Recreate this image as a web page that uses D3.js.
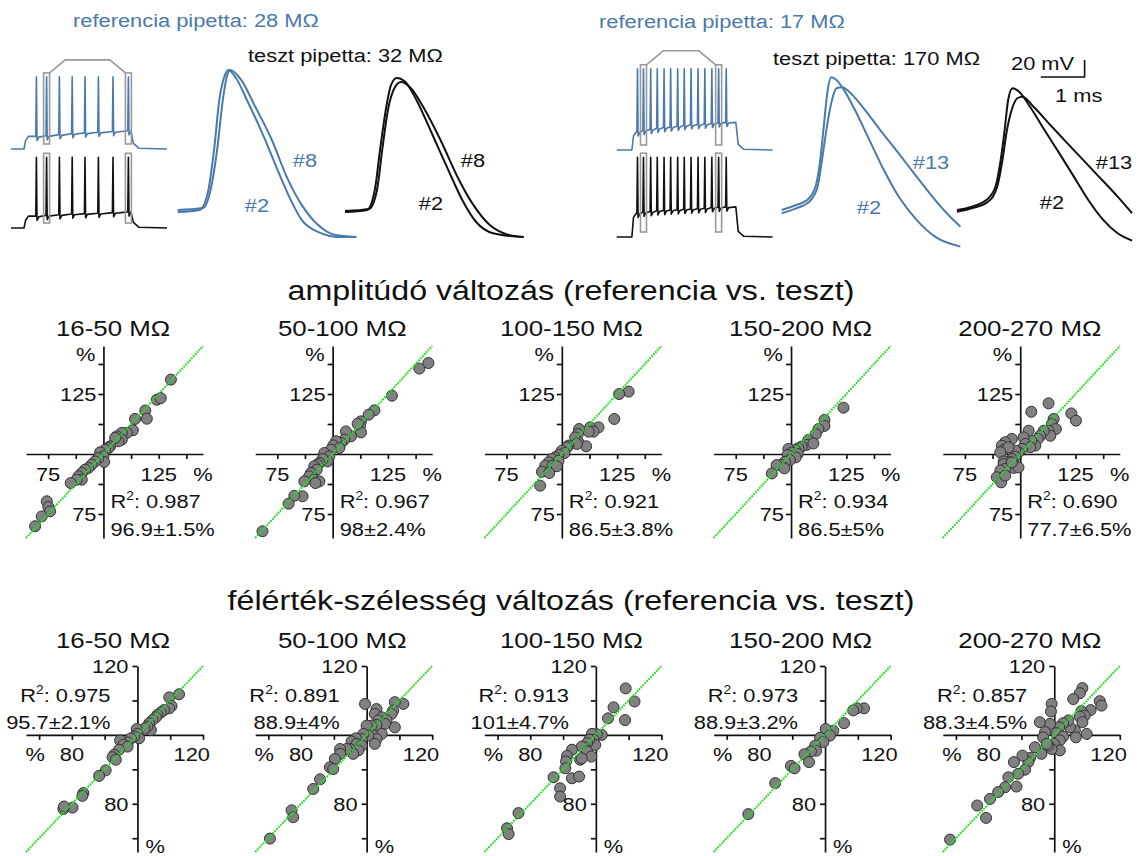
<!DOCTYPE html>
<html lang="hu">
<head>
<meta charset="utf-8">
<title>Pipetta ellenállás - AP összehasonlítás</title>
<script src="https://d3js.org/d3.v7.min.js"></script>
<style>
  body { margin: 0; background: #fff; font-family: "Liberation Sans", Arial, Helvetica, sans-serif; }
  svg text { font-family: "Liberation Sans", Arial, Helvetica, sans-serif; }
</style>
</head>
<body>
<div id="chart"></div>
<script>

var W = 1142, H = 856;
var SX = 1.15;            // the original lettering is a bit wide
var BLUE = "#4a79ab";
var INK = "#111";

// ---------- scatter panels ----------
var rangeLabels = ["16-50 MΩ", "50-100 MΩ", "100-150 MΩ", "150-200 MΩ", "200-270 MΩ"];
var ampR2 = ["0.987", "0.967", "0.921", "0.934", "0.690"];
var ampMean = ["96.9±1.5%", "98±2.4%", "86.5±3.8%", "86.5±5%", "77.7±6.5%"];
var widthR2 = ["0.975", "0.891", "0.913", "0.973", "0.857"];
var widthMean = ["95.7±2.1%", "88.9±4%", "101±4.7%", "88.9±3.2%", "88.3±4.5%"];

var ampTicks = [75, 87.5, 112.5, 125, 137.5];
var widthTicks = [70, 80, 90, 110, 120];

// amplitude: [reference %, test %]
var amp1 = [[130.5,131],[124.1,122.6],[125.9,123.3],[118.9,118.1],[119.6,114.7],[114.3,114.6],[113.3,109.9],
  [110.6,108.8],[108.3,108.8],[106,107.4],[108.3,106],[106.8,105.3],[105.3,106.7],[103,103.2],[102.3,102.5],
  [100.8,101.8],[98.5,100.7],[100,99],[100.3,96.7],[97.7,98.3],[96.2,96.9],[94.7,95.6],[93.2,94.2],[91.7,93.5],
  [90.2,92.1],[88.7,90.7],[90.2,89.3],[87.9,89.3],[85.2,87.9],[74.4,80.3],[75.1,77.9],[75.9,76.1],[72.1,74],[69.1,69.9]];
var amp2 = [[143.3,137.9],[139.2,135.6],[126.8,124.3],[118.9,118.2],[116.3,116.4],[112.8,113.6],[112.4,111.8],
  [112.8,109],[111.3,112.6],[108.3,107.4],[106,109.4],[105.3,106],[103.8,104.6],[101.5,105.3],[100.3,103.6],
  [103,102.5],[99.2,101.8],[96.2,100.4],[98.5,99],[97.7,96.9],[95.5,97.9],[94,96.3],[93.2,95.6],[91.7,94.9],
  [92.8,93.5],[90.2,92.1],[89.4,90.7],[91.7,89.3],[94,88.6],[92.2,87.9],[87.2,88.6],[86.4,82.4],[82.7,82.6],
  [80.1,79.3],[68.3,67.8]];
var amp3 = [[130.2,126],[125.9,125],[123.7,114.6],[116.6,111.1],[112.8,111.1],[114.3,109.3],[112.1,109.3],
  [107.8,110.4],[107.2,108.3],[106,106.9],[107.5,104.9],[111,103.2],[106.8,104.2],[103,103.5],[102.3,102.8],
  [100,101.4],[101.2,100.4],[98.5,99.6],[97,98.6],[95.5,97.9],[98.5,97.2],[94,96.5],[92.5,95.1],[95.8,95.1],
  [97.7,94.9],[91,92.6],[94.3,92.1],[90.2,86.8]];
var amp4 = [[123.7,119.3],[115.1,114.2],[115.1,111.7],[112.4,110.4],[111.2,108.3],[107.8,105.8],[107.1,103.8],
  [110.1,104.4],[104.8,103.1],[103.3,102.4],[101.8,101.7],[98.8,102.1],[100.3,100.6],[103,100],[98.5,99.6],
  [102.1,98.6],[99.5,97.5],[97.3,96.8],[95.5,95.4],[93.5,95.4],[97,94],[91.3,91.9]];
var amp5 = [[112.8,121.1],[105,117.6],[123.1,116.9],[125.2,113.9],[115.1,114.6],[114.3,112.5],[116.1,110.4],
  [112.8,109.7],[113.6,107.6],[110.6,109.7],[109,107.6],[108,106.3],[106.8,103.5],[105,105.6],[103.8,109.7],
  [101.5,106.9],[102.3,104.2],[104.5,102.8],[100.8,102.1],[99.2,100.7],[97.7,101.4],[96.2,106.3],[93.2,104.9],
  [91.7,103.5],[92.5,101.7],[94.7,102.8],[91,100.7],[97.7,98.9],[96.2,97.9],[94.7,96.8],[92.5,96.9],[92.5,95.8],
  [97.7,95.1],[97,94.2],[99.2,94.4],[93.2,93.8],[91,93.1],[89.4,90.3],[91.4,88.2],[93.2,91],[96.2,96.5]];

// half-width: [reference %, test %]
var wid1 = [[112.7,111.8],[109.7,110.9],[110.4,108.4],[109.7,107.7],[108.1,107.2],[107.1,106.5],[106.1,105.8],
  [105.6,105.1],[104.6,104.3],[103.6,103.4],[104.1,101.4],[103,102.4],[102.2,101.9],[99.8,101.7],[100,100.3],
  [100.5,99],[99,99.5],[98,99],[97,97.8],[94.7,98.4],[95.7,97.1],[97,96.6],[94.4,95.7],[92.9,94.2],[92.4,93.5],
  [93.4,92.8],[90.3,89.7],[88.3,88.1],[83.5,83.1],[83.2,82.3],[80.2,78.9],[77.4,78.5],[77.6,79.2]];
var wid2 = [[111.2,109],[108.6,109.5],[108.1,107.1],[107.6,106.1],[103,107.5],[102.5,106.1],[99.5,109],
  [104.6,105.1],[103.6,104.2],[106.1,104.2],[108.6,102.2],[105.6,103.2],[103,102.9],[101.5,102.7],[100,102.7],
  [104.6,100.3],[102,99.8],[103,98.8],[100.5,99.8],[99,100.3],[98.5,98.8],[96.7,99],[95.4,98.1],[97,97.4],
  [98.5,96.9],[102.5,97.4],[97.5,95.5],[94.9,95.9],[95.9,94.5],[93.9,95.9],[91.9,95.9],[91.9,94.5],[90.3,93],
  [88.8,90.6],[89.8,90.1],[85.8,87.1],[83.7,84.3],[77.1,78.1],[77.6,76.1],[70.5,69.9]];
var wid3 = [[109.1,113.5],[111.8,109.7],[105.4,108],[103.7,104.8],[108.9,104.3],[101.8,100],[100.3,100.2],
  [98.8,100.3],[99.3,98.6],[99.8,97.1],[98,98.6],[97.3,97.6],[96.7,96.3],[95.7,96.6],[97.3,95.2],[98.6,93.7],
  [92.7,95.7],[91.2,93.9],[90.9,92.3],[90.7,90.3],[95.2,92.8],[95.7,93.2],[92.7,87.4],[94.9,87.9],[87.1,87.7],
  [89.1,84.5],[89.1,82.1],[76.4,77.3],[72.9,72.9],[73.4,71.2]];
var wid4 = [[111.9,107.7],[109.7,107.7],[108.6,107.1],[105.8,103.4],[102.5,101.2],[100.2,101.7],[101.5,99.8],
  [98.5,99.2],[99.5,97.9],[97,96.9],[97.3,95.4],[95.7,95.2],[93.7,94.4],[95.1,92.1],[89.6,91],[90.7,90.3],
  [84.8,86],[76.6,77]];
var wid5 = [[108.6,113.6],[107.8,112.1],[105.8,110.4],[113.9,109.8],[114.4,108.5],[111.1,107.2],[108.3,106.9],
  [109.3,105.6],[107.8,105.3],[108.6,103.7],[109.9,100.3],[106.3,101.3],[106.6,99.3],[104.8,102.2],[104.3,104.2],
  [102.7,103.4],[101.5,102.2],[99.2,109],[99,106.8],[98.7,103.2],[100.7,100.5],[102.7,99.5],[101.7,98.4],
  [99.9,97.4],[101.7,95.5],[99.2,95.9],[98.2,96.9],[97.2,100.8],[96.6,99.3],[95.6,103.7],[97.7,97.4],[96.1,94.5],
  [94.1,96.4],[92.6,93.3],[92.1,92.1],[90.3,94],[91.1,89.9],[89,88.7],[87.7,92.1],[88.5,85],[86,87.7],[85,84.8],
  [82.9,83.4],[80.4,81.4],[79.2,75.9],[76.5,79.5],[68.2,69.6]];

// ---------- action potential insets: [ms, mV] ----------
var apRef28_2 = [[0,-65],[0.5,-63.6],[0.7,-49.5],[0.83,-21.3],[0.95,13.9],[1.08,31.5],[1.15,35],[1.33,29.4],
  [1.58,13.9],[1.95,-10.8],[2.33,-39],[2.58,-56.5],[2.83,-70.6],[3.2,-79],[3.7,-82.6],[4.08,-82.6]];
var apRef28_8 = [[0,-63.6],[0.58,-62.2],[0.75,-49.5],[0.9,-21.3],[1.03,13.9],[1.13,31.5],[1.2,35],[1.45,28],
  [1.75,10.4],[2.15,-14.3],[2.5,-41],[2.83,-60],[3.2,-74],[3.58,-81],[4.08,-82.6]];
var apTest32_2 = [[0,-65],[0.5,-63.6],[0.68,-49.5],[0.8,-21.3],[0.93,6.8],[1.05,24.4],[1.18,29.4],[1.38,26.5],
  [1.63,13.9],[2,-10.8],[2.38,-36.9],[2.68,-56.7],[3,-72.2],[3.38,-79.9],[4.08,-82.6]];
var apTest32_8 = [[0,-64.3],[0.55,-62.9],[0.73,-49.5],[0.85,-21.3],[0.98,6.8],[1.13,22.3],[1.28,26.5],[1.5,22.3],
  [1.8,8.2],[2.18,-14.3],[2.58,-41],[2.93,-60],[3.3,-74],[3.68,-80.6],[4.08,-82.6]];
var apRef17_2 = [[0,-65],[0.33,-61.5],[0.58,-58],[0.77,-48.6],[0.88,-29.8],[0.96,-6.3],[1.04,17.2],[1.13,28.5],
  [1.25,26.6],[1.42,19.6],[1.67,5.6],[2,-15.6],[2.33,-36.7],[2.67,-55.5],[3.08,-72],[3.5,-83.8],[4.08,-90.8]];
var apRef17_13 = [[0,-67.3],[0.33,-63.8],[0.63,-59.1],[0.82,-48.6],[0.92,-29.8],[1.02,-8.7],[1.13,10.1],[1.25,20.7],
  [1.38,21.4],[1.54,18.3],[1.84,7.8],[2.25,-8.7],[2.67,-25.1],[3.08,-41.5],[3.5,-57.9],[3.84,-69.6],[4.08,-76.7]];
var apTest170_2 = [[0,-65],[0.34,-62.7],[0.67,-58],[0.88,-48.6],[1,-29.8],[1.09,-8.7],[1.17,12.5],[1.27,20.7],
  [1.42,18.3],[1.67,7.7],[2,-8.7],[2.34,-25.1],[2.67,-41.5],[3,-58],[3.34,-72],[3.67,-81.4],[4,-86.6]];
var apTest170_13 = [[0,-66.2],[0.34,-63.8],[0.71,-59.2],[0.92,-48.6],[1.04,-29.8],[1.13,-11],[1.25,5.4],[1.38,13.7],
  [1.5,14.8],[1.75,7.7],[2.17,-6.4],[2.67,-22.8],[3.17,-39.2],[3.67,-55.6],[4,-67.3]];

// ---------- spike trains (ms, mV) ----------
var leftSpikes = [127, 178, 242, 306, 370, 437, 510, 587];
var rightSpikes = [104, 134, 170, 203, 237, 270, 305, 338, 372, 407, 441, 476, 510, 548];
var trainRef28 = { rest: -65, on: 65, off: 600, peak: 38, troughs: [-47, -46, -44.5, -43, -42, -41, -40, -39] };
var trainTest32 = { rest: -65, on: 65, off: 600, peak: 36, troughs: [-48, -47, -46, -45, -44.5, -44, -43, -42] };
var trainRef17 = { rest: -65, on: 76, off: 596, peak: 51,
  troughs: [-39, -37, -35.5, -34, -33, -32, -31, -30, -29, -28.5, -28, -27, -26, -25.5] };
var trainTest170 = { rest: -65, on: 76, off: 596, peak: 49,
  troughs: [-31, -29.5, -28.5, -27.5, -27, -26.5, -26, -25.5, -25, -24.5, -24, -23, -22.5, -22] };
var trainEnd = 780;
var scaleBar = { ms: 1, mV: 20 };

// ------------------------------------------------------------
var svg = d3.select("#chart").append("svg")
  .attr("width", W).attr("height", H)
  .style("display", "block");

function txt(g, x, y, s, size, anchor, color) {
  return g.append("text")
    .attr("transform", "translate(" + x + "," + y + ") scale(" + SX + ",1)")
    .attr("font-size", size)
    .attr("text-anchor", anchor || "start")
    .attr("dy", "0.36em")
    .attr("fill", color || INK)
    .text(s);
}

function r2Text(g, x, y, val, anchor) {
  var t = g.append("text")
    .attr("transform", "translate(" + x + "," + y + ") scale(" + SX + ",1)")
    .attr("font-size", 19)
    .attr("text-anchor", anchor)
    .attr("dy", "0.36em")
    .attr("fill", INK);
  t.append("tspan").text("R");
  t.append("tspan").attr("font-size", 12).attr("dy", -8).text("2");
  t.append("tspan").attr("dy", 8).text(": " + val);
}

// ---------- top: traces ----------
var traceG = svg.append("g");

var apLine = d3.line().curve(d3.curveMonotoneX);

function drawAP(data, xs, ys, color) {
  traceG.append("path")
    .attr("d", apLine(data.map(function(d) { return [xs(d[0]), ys(d[1])]; })))
    .attr("fill", "none").attr("stroke", color).attr("stroke-width", 2);
}

var ysLeft = d3.scaleLinear().domain([-65, 35]).range([212, 70]);
var ysRight = d3.scaleLinear().domain([-65, 35]).range([210, 68]);
var msPx = 43.8;
function xsAt(x0) { return d3.scaleLinear().domain([0, 1]).range([x0, x0 + msPx]); }

var xsRef28 = xsAt(177.7), xsTest32 = xsAt(345), xsRef17 = xsAt(781.7), xsTest170 = xsAt(956.9);

drawAP(apRef28_2, xsRef28, ysLeft, BLUE);
drawAP(apRef28_8, xsRef28, ysLeft, BLUE);
drawAP(apTest32_2, xsTest32, ysLeft, INK);
drawAP(apTest32_8, xsTest32, ysLeft, INK);
drawAP(apRef17_2, xsRef17, ysRight, BLUE);
drawAP(apRef17_13, xsRef17, ysRight, BLUE);
drawAP(apTest170_2, xsTest170, ysRight, INK);
drawAP(apTest170_13, xsTest170, ysRight, INK);

// spike trains
function trainPoints(tr, spikes) {
  var n = spikes.length;
  var pts = [[0, tr.rest], [tr.on, tr.rest], [tr.on + 8, tr.troughs[0] - 6], [tr.on + 22, tr.troughs[0]]];
  spikes.forEach(function(s, i) {
    pts.push([s - 3, tr.troughs[i]]);
    pts.push([s, tr.peak]);
    pts.push([s + 3, tr.troughs[i] - 6]);
    pts.push([s + 12, tr.troughs[i] - 1]);
  });
  pts.push([tr.off, tr.troughs[n - 1]]);
  pts.push([tr.off + 12, tr.rest + 8]);
  pts.push([tr.off + 40, tr.rest + 1]);
  pts.push([trainEnd, tr.rest]);
  return pts;
}

function drawTrain(tr, spikes, xs, ys, color, boxIdx) {
  var pts = trainPoints(tr, spikes);
  traceG.append("path")
    .attr("d", d3.line()(pts.map(function(d) { return [xs(d[0]), ys(d[1])]; })))
    .attr("fill", "none").attr("stroke", color).attr("stroke-width", 1.6)
    .attr("stroke-linejoin", "round");
  boxIdx.forEach(function(i) {
    traceG.append("rect")
      .attr("x", xs(spikes[i]) - 3).attr("width", 6)
      .attr("y", ys(tr.peak) - 4).attr("height", ys(tr.rest) - ys(tr.peak) - 1)
      .attr("fill", "none").attr("stroke", "#999").attr("stroke-width", 1.6);
  });
}

function ysTrain(base) { return d3.scaleLinear().domain([-65, 40]).range([base, base - 105 * 0.7]); }
var xsTrainL = d3.scaleLinear().domain([0, trainEnd]).range([11, 167]);
var xsTrainR = d3.scaleLinear().domain([0, trainEnd]).range([616.7, 772.6]);

var ysT28 = ysTrain(149), ysT32 = ysTrain(228), ysT17 = ysTrain(150), ysT170 = ysTrain(237);
drawTrain(trainRef28, leftSpikes, xsTrainL, ysT28, BLUE, [1, 7]);
drawTrain(trainTest32, leftSpikes, xsTrainL, ysT32, INK, [1, 7]);
drawTrain(trainRef17, rightSpikes, xsTrainR, ysT17, BLUE, [1, 12]);
drawTrain(trainTest170, rightSpikes, xsTrainR, ysT170, INK, [1, 12]);

// connectors between the two boxes of each reference train
function connector(spikes, i1, i2, xs, ys, tr, rise) {
  var a = xs(spikes[i1]) + 3, b = xs(spikes[i2]) - 3, yTop = ys(tr.peak) - 4;
  traceG.append("path")
    .attr("d", d3.line()([[a, yTop], [a + rise * 1.2, yTop - rise], [b - rise * 1.2, yTop - rise], [b, yTop]]))
    .attr("fill", "none").attr("stroke", "#999").attr("stroke-width", 1.6);
}
connector(leftSpikes, 1, 7, xsTrainL, ysT28, trainRef28, 13);
connector(rightSpikes, 1, 12, xsTrainR, ysT17, trainRef17, 14);

// scale bar (1 ms, 20 mV)
var ysBar = d3.scaleLinear().domain([0, 20]).range([77, 60]);
var barX1 = 1084.6;
traceG.append("path")
  .attr("d", d3.line()([[barX1 - (xsTest170(scaleBar.ms) - xsTest170(0)), ysBar(0)], [barX1, ysBar(0)], [barX1, ysBar(scaleBar.mV)]]))
  .attr("fill", "none").attr("stroke", INK).attr("stroke-width", 1.6);
txt(traceG, 1011, 63, "20 mV", 19);
txt(traceG, 1055, 95, "1 ms", 19);

// captions
txt(traceG, 73, 20, "referencia pipetta: 28 MΩ", 19, "start", BLUE);
txt(traceG, 248, 55, "teszt pipetta: 32 MΩ", 19);
txt(traceG, 599, 21, "referencia pipetta: 17 MΩ", 19, "start", BLUE);
txt(traceG, 773, 58, "teszt pipetta: 170 MΩ", 19);

txt(traceG, 305, 160, "#8", 19, "middle", BLUE);
txt(traceG, 257, 205, "#2", 19, "middle", BLUE);
txt(traceG, 473, 160, "#8", 19, "middle");
txt(traceG, 431, 203, "#2", 19, "middle");
txt(traceG, 931, 162, "#13", 19, "middle", BLUE);
txt(traceG, 869, 207, "#2", 19, "middle", BLUE);
txt(traceG, 1114, 162, "#13", 19, "middle");
txt(traceG, 1052, 202, "#2", 19, "middle");

// ---------- scatter panels ----------
txt(svg, 571, 290, "amplitúdó változás (referencia vs. teszt)", 28, "middle");
txt(svg, 571, 600, "félérték-szélesség változás (referencia vs. teszt)", 28, "middle");

function panelLeft(i) { return 26 + 229.2 * i; }

function drawAxes(g, x, y, ticks) {
  g.append("g").attr("transform", "translate(0," + y(100) + ")")
    .call(d3.axisBottom(x).tickValues(ticks).tickSize(5).tickSizeOuter(0).tickFormat(""));
  g.append("g").attr("transform", "translate(" + x(100) + ",0)")
    .call(d3.axisLeft(y).tickValues(ticks).tickSize(5).tickSizeOuter(0).tickFormat(""));
  g.selectAll(".domain, .tick line").attr("stroke", INK).attr("stroke-width", 1.7);
}

function drawPoints(g, x, y, pts, dom) {
  g.append("g").selectAll("circle").data(pts).join("circle")
    .attr("cx", function(d) { return x(d[0]); })
    .attr("cy", function(d) { return y(d[1]); })
    .attr("r", 5.5)
    .attr("fill", "#808080").attr("stroke", "#333").attr("stroke-width", 1);
  g.append("path")
    .attr("d", d3.line()([[x(dom[0]), y(dom[0])], [x(dom[1]), y(dom[1])]]))
    .attr("stroke", "#22dd22").attr("stroke-width", 2).attr("stroke-dasharray", "1.8 1")
    .attr("fill", "none");
}

var ampSets = [amp1, amp2, amp3, amp4, amp5];
var widSets = [wid1, wid2, wid3, wid4, wid5];
var ampDom = [65, 145], widDom = [66, 120];

ampSets.forEach(function(pts, i) {
  var L = panelLeft(i);
  var x = d3.scaleLinear().domain(ampDom).range([L, L + 177]);
  var y = d3.scaleLinear().domain(ampDom).range([538, 346]);
  var g = svg.append("g");
  txt(g, L + 87, 328, rangeLabels[i], 22.5, "middle");
  drawAxes(g, x, y, ampTicks);
  drawPoints(g, x, y, pts, ampDom);
  txt(g, x(100) - 8, 354, "%", 19, "end");
  txt(g, x(100) - 7, y(125), "125", 19, "end");
  txt(g, x(100) - 7, y(75), "75", 19, "end");
  txt(g, x(75), y(100) + 20, "75", 19, "middle");
  txt(g, x(125), y(100) + 20, "125", 19, "middle");
  txt(g, x(145), y(100) + 20, "%", 19, "middle");
  r2Text(g, x(100) + 7, y(100) + 47, ampR2[i], "start");
  txt(g, x(100) + 7, y(100) + 75, ampMean[i], 19, "start");
});

widSets.forEach(function(pts, i) {
  var L = panelLeft(i);
  var x = d3.scaleLinear().domain(widDom).range([L, L + 177]);
  var y = d3.scaleLinear().domain(widDom).range([852, 666]);
  var g = svg.append("g");
  txt(g, L + 87, 640, rangeLabels[i], 22.5, "middle");
  drawAxes(g, x, y, widthTicks);
  drawPoints(g, x, y, pts, widDom);
  txt(g, x(100) - 9, y(120), "120", 19, "end");
  txt(g, x(100) - 9, y(80), "80", 19, "end");
  txt(g, x(100) + 8, y(66) - 6, "%", 19, "start");
  txt(g, x(70) - 4, y(100) + 19, "%", 19, "middle");
  txt(g, x(80), y(100) + 19, "80", 19, "middle");
  txt(g, x(120) + 7, y(100) + 19, "120", 19, "end");
  r2Text(g, x(100) - 27, y(100) - 40, widthR2[i], "end");
  txt(g, x(100) - 27, y(100) - 13, widthMean[i], 19, "end");
});

</script>
</body>
</html>
